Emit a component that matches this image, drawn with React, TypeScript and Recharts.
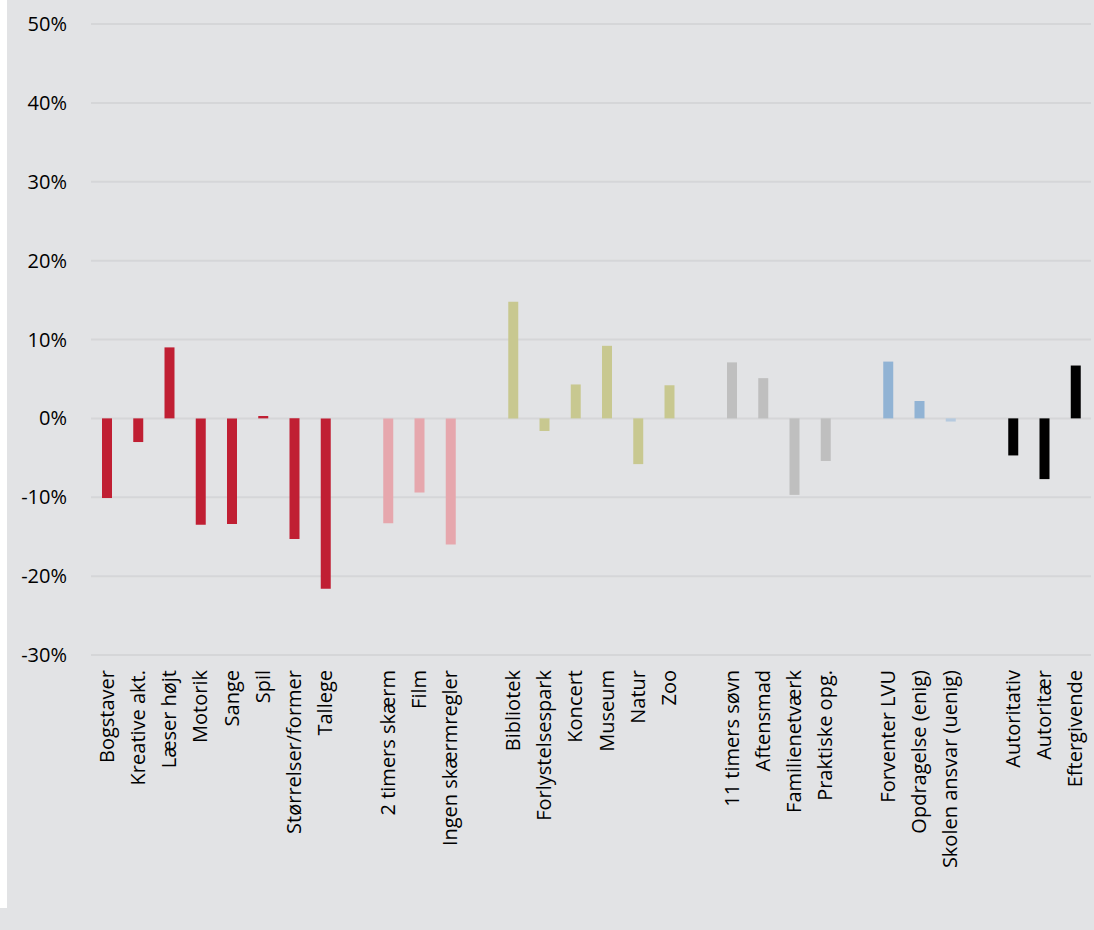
import React from 'react';
import { BarChart, Bar, XAxis, YAxis, CartesianGrid, Cell } from 'recharts';

// Empty strings are spacer slots between the groups
const categories = [
  'Bogstaver', 'Kreative akt.', 'Læser højt', 'Motorik', 'Sange', 'Spil', 'Størrelser/former', 'Tallege', '',
  '2 timers skærm', 'Film', 'Ingen skærmregler', '',
  'Bibliotek', 'Forlystelsespark', 'Koncert', 'Museum', 'Natur', 'Zoo', '',
  '11 timers søvn', 'Aftensmad', 'Familienetværk', 'Praktiske opg.', '',
  'Forventer LVU', 'Opdragelse (enig)', 'Skolen ansvar (uenig)', '',
  'Autoritativ', 'Autoritær', 'Eftergivende',
];

// Percent difference per category (null for spacer slots)
const values: (number | null)[] = [
  -10.1, -3.0, 9.0, -13.5, -13.4, 0.3, -15.3, -21.6, null,
  -13.3, -9.4, -16.0, null,
  14.8, -1.6, 4.3, 9.2, -5.8, 4.2, null,
  7.1, 5.1, -9.7, -5.4, null,
  7.2, 2.2, -0.4, null,
  -4.7, -7.7, 6.7,
];

const barColors = [
  '#c01f33', '#c01f33', '#c01f33', '#c01f33', '#c01f33', '#c01f33', '#c01f33', '#c01f33', '',
  '#e6a7ad', '#e6a7ad', '#e6a7ad', '',
  '#c8c890', '#c8c890', '#c8c890', '#c8c890', '#c8c890', '#c8c890', '',
  '#bfbfbf', '#bfbfbf', '#bfbfbf', '#bfbfbf', '',
  '#91b3d4', '#91b3d4', '#b6cadf', '',
  '#000000', '#000000', '#000000',
];

const yTicks = [-30, -20, -10, 0, 10, 20, 30, 40, 50];

const data = categories.map((name, i) => ({ name, value: values[i] }));

const FONT = '"Open Sans", "Noto Sans", sans-serif';

const CategoryTick = ({ x, y, payload }: any) => {
  if (!payload.value) return null;
  return (
    <text
      x={x}
      y={y}
      transform={`rotate(-90, ${x}, ${y})`}
      textAnchor="end"
      dy="0.35em"
      fill="#000"
      fontSize={20}
      fontFamily={FONT}
    >
      {payload.value}
    </text>
  );
};

export default function App() {
  return (
    <div style={{ position: 'absolute', left: 0, top: 0, width: 1094, height: 930, background: '#e2e3e5' }}>
      <div style={{ position: 'absolute', left: 0, top: 0, width: 7, height: 908, background: '#ffffff' }} />
      <BarChart
        width={1094}
        height={930}
        data={data}
        margin={{ top: 24, right: 3, left: 0, bottom: 0 }}
        barCategoryGap={0}
      >
        <CartesianGrid vertical={false} stroke="#d5d6d8" strokeWidth={2} />
        <XAxis
          dataKey="name"
          interval={0}
          axisLine={false}
          tickLine={false}
          tickSize={0}
          tickMargin={15}
          height={275}
          tick={<CategoryTick />}
        />
        <YAxis
          domain={[-30, 50]}
          ticks={yTicks}
          tickFormatter={(v: number) => `${v}%`}
          axisLine={false}
          tickLine={false}
          tickSize={0}
          tickMargin={24}
          width={91}
          tick={{ fill: '#000', fontSize: 20, fontFamily: FONT }}
        />
        <Bar dataKey="value" barSize={10} isAnimationActive={false}>
          {data.map((_, i) => (
            <Cell key={`c-${i}`} fill={barColors[i] || 'none'} />
          ))}
        </Bar>
      </BarChart>
    </div>
  );
}
